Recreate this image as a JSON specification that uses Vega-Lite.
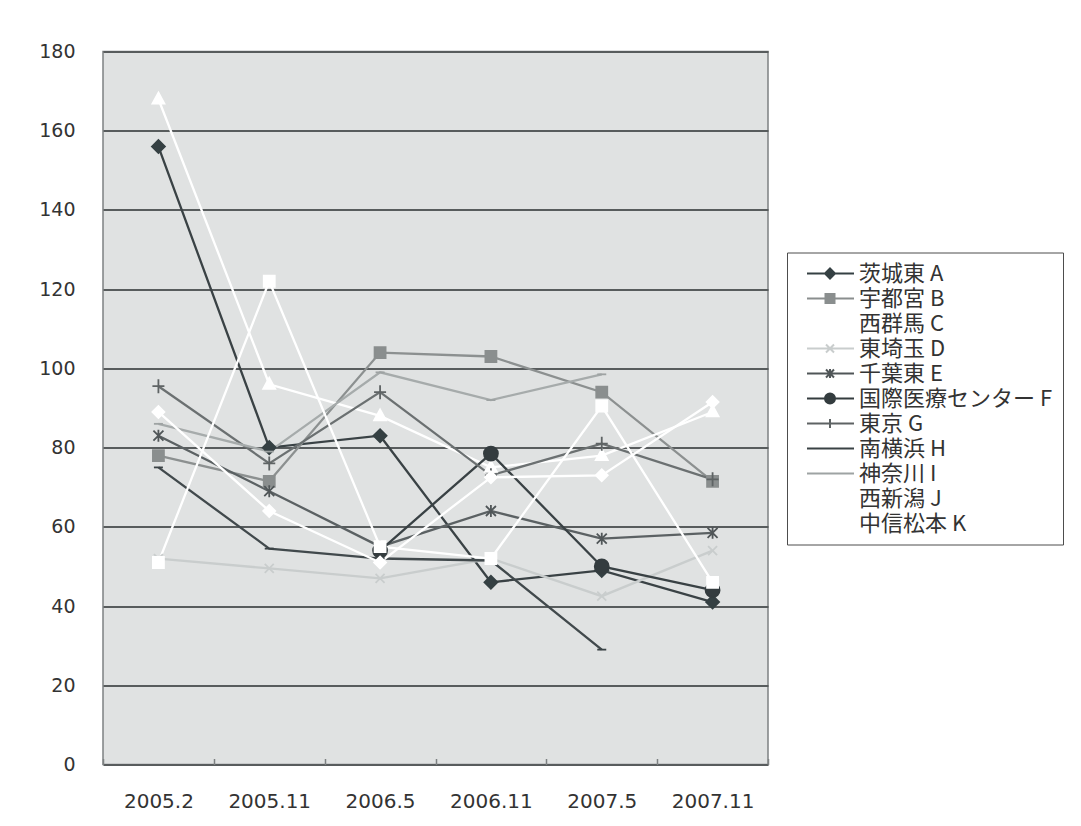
{
  "$schema": "https://vega.github.io/schema/vega-lite/v6.json",
  "width": 665,
  "height": 713,
  "autosize": {"type": "none"},
  "padding": {"left": 103, "top": 51.5, "right": 313, "bottom": 61.5},
  "background": "#ffffff",
  "config": {
    "view": {"fill": "#e0e2e2", "stroke": "#7d8182", "strokeWidth": 1.5},
    "axis": {"labelFont": "DejaVu Sans", "labelColor": "#333333", "title": null}
  },
  "data": {
    "values": [
      {"period": "2005.2", "series": "茨城東 A", "value": 156},
      {"period": "2005.11", "series": "茨城東 A", "value": 80},
      {"period": "2006.5", "series": "茨城東 A", "value": 83},
      {"period": "2006.11", "series": "茨城東 A", "value": 46},
      {"period": "2007.5", "series": "茨城東 A", "value": 49},
      {"period": "2007.11", "series": "茨城東 A", "value": 41},
      {"period": "2005.2", "series": "宇都宮 B", "value": 78},
      {"period": "2005.11", "series": "宇都宮 B", "value": 71.5},
      {"period": "2006.5", "series": "宇都宮 B", "value": 104},
      {"period": "2006.11", "series": "宇都宮 B", "value": 103},
      {"period": "2007.5", "series": "宇都宮 B", "value": 94},
      {"period": "2007.11", "series": "宇都宮 B", "value": 71.5},
      {"period": "2005.2", "series": "西群馬 C", "value": 168},
      {"period": "2005.11", "series": "西群馬 C", "value": 96},
      {"period": "2006.5", "series": "西群馬 C", "value": 88},
      {"period": "2006.11", "series": "西群馬 C", "value": 75},
      {"period": "2007.5", "series": "西群馬 C", "value": 78},
      {"period": "2007.11", "series": "西群馬 C", "value": 89},
      {"period": "2005.2", "series": "東埼玉 D", "value": 52},
      {"period": "2005.11", "series": "東埼玉 D", "value": 49.5},
      {"period": "2006.5", "series": "東埼玉 D", "value": 47},
      {"period": "2006.11", "series": "東埼玉 D", "value": 52},
      {"period": "2007.5", "series": "東埼玉 D", "value": 42.5},
      {"period": "2007.11", "series": "東埼玉 D", "value": 54},
      {"period": "2005.2", "series": "千葉東 E", "value": 83},
      {"period": "2005.11", "series": "千葉東 E", "value": 69},
      {"period": "2006.5", "series": "千葉東 E", "value": 55},
      {"period": "2006.11", "series": "千葉東 E", "value": 64},
      {"period": "2007.5", "series": "千葉東 E", "value": 57},
      {"period": "2007.11", "series": "千葉東 E", "value": 58.5},
      {"period": "2006.5", "series": "国際医療センター F", "value": 54},
      {"period": "2006.11", "series": "国際医療センター F", "value": 78.5},
      {"period": "2007.5", "series": "国際医療センター F", "value": 50},
      {"period": "2007.11", "series": "国際医療センター F", "value": 44},
      {"period": "2005.2", "series": "東京 G", "value": 95.5},
      {"period": "2005.11", "series": "東京 G", "value": 76},
      {"period": "2006.5", "series": "東京 G", "value": 94},
      {"period": "2006.11", "series": "東京 G", "value": 73},
      {"period": "2007.5", "series": "東京 G", "value": 81},
      {"period": "2007.11", "series": "東京 G", "value": 72},
      {"period": "2005.2", "series": "南横浜 H", "value": 75},
      {"period": "2005.11", "series": "南横浜 H", "value": 54.5},
      {"period": "2006.5", "series": "南横浜 H", "value": 52},
      {"period": "2006.11", "series": "南横浜 H", "value": 51.5},
      {"period": "2007.5", "series": "南横浜 H", "value": 29},
      {"period": "2005.2", "series": "神奈川 I", "value": 86},
      {"period": "2005.11", "series": "神奈川 I", "value": 79},
      {"period": "2006.5", "series": "神奈川 I", "value": 99},
      {"period": "2006.11", "series": "神奈川 I", "value": 92},
      {"period": "2007.5", "series": "神奈川 I", "value": 98.5},
      {"period": "2005.2", "series": "西新潟 J", "value": 89},
      {"period": "2005.11", "series": "西新潟 J", "value": 64},
      {"period": "2006.5", "series": "西新潟 J", "value": 51},
      {"period": "2006.11", "series": "西新潟 J", "value": 72.5},
      {"period": "2007.5", "series": "西新潟 J", "value": 73},
      {"period": "2007.11", "series": "西新潟 J", "value": 91.5},
      {"period": "2005.2", "series": "中信松本 K", "value": 51},
      {"period": "2005.11", "series": "中信松本 K", "value": 122},
      {"period": "2006.5", "series": "中信松本 K", "value": 55},
      {"period": "2006.11", "series": "中信松本 K", "value": 52},
      {"period": "2007.5", "series": "中信松本 K", "value": 90.5},
      {"period": "2007.11", "series": "中信松本 K", "value": 46}
    ]
  },
  "encoding": {
    "x": {
      "field": "period",
      "type": "ordinal",
      "sort": ["2005.2", "2005.11", "2006.5", "2006.11", "2007.5", "2007.11"],
      "scale": {"type": "band", "paddingInner": 0, "paddingOuter": 0},
      "axis": {
        "labelAngle": 0,
        "labelFontSize": 20,
        "labelPadding": 33,
        "ticks": true,
        "tickBand": "extent",
        "tickSize": -6,
        "tickColor": "#7d8182",
        "tickWidth": 1.5,
        "domain": false,
        "grid": false
      }
    },
    "y": {
      "field": "value",
      "type": "quantitative",
      "scale": {"domain": [0, 180], "nice": false, "zero": true},
      "axis": {
        "values": [0, 20, 40, 60, 80, 100, 120, 140, 160, 180],
        "labelFontSize": 19,
        "labelPadding": 28,
        "ticks": false,
        "domain": false,
        "grid": true,
        "gridColor": "#585c5d",
        "gridWidth": 2
      }
    }
  },
  "layer": [
    {
      "mark": {"type": "line", "strokeWidth": 2.3},
      "encoding": {
        "color": {
          "field": "series",
          "type": "nominal",
          "scale": {
            "domain": ["茨城東 A", "宇都宮 B", "西群馬 C", "東埼玉 D", "千葉東 E", "国際医療センター F", "東京 G", "南横浜 H", "神奈川 I", "西新潟 J", "中信松本 K"],
            "range": ["#3a4245", "#8c9090", "#ffffff", "#c9cdcd", "#5b6163", "#394144", "#6b7071", "#41494c", "#a6abab", "#ffffff", "#ffffff"]
          },
          "legend": null
        }
      }
    },
    {
      "mark": {"type": "point", "filled": true, "opacity": 1, "size": 400, "strokeWidth": 1.8},
      "encoding": {
        "fill": {
          "field": "series",
          "type": "nominal",
          "scale": {
            "domain": ["茨城東 A", "宇都宮 B", "西群馬 C", "東埼玉 D", "千葉東 E", "国際医療センター F", "東京 G", "南横浜 H", "神奈川 I", "西新潟 J", "中信松本 K"],
            "range": ["#354043", "#8a8e8e", "#ffffff", "#c9cdcd", "#505658", "#343c3f", "#5e6364", "#3a4245", "#9ea3a3", "#ffffff", "#ffffff"]
          },
          "legend": null
        },
        "stroke": {
          "field": "series",
          "type": "nominal",
          "scale": {
            "domain": ["茨城東 A", "宇都宮 B", "西群馬 C", "東埼玉 D", "千葉東 E", "国際医療センター F", "東京 G", "南横浜 H", "神奈川 I", "西新潟 J", "中信松本 K"],
            "range": ["#354043", "#8a8e8e", "#ffffff", "#c9cdcd", "#505658", "#343c3f", "#5e6364", "#3a4245", "#9ea3a3", "#ffffff", "#ffffff"]
          },
          "legend": null
        },
        "shape": {
          "field": "series",
          "type": "nominal",
          "scale": {
            "domain": ["茨城東 A", "宇都宮 B", "西群馬 C", "東埼玉 D", "千葉東 E", "国際医療センター F", "東京 G", "南横浜 H", "神奈川 I", "西新潟 J", "中信松本 K"],
            "range": [
              "M-0.65,0L0,-0.65L0.65,0L0,0.65Z",
              "M-0.55,-0.55H0.55V0.55H-0.55Z",
              "M0,-0.65L0.6,0.45H-0.6Z",
              "M-0.45,-0.45L0.45,0.45M-0.45,0.45L0.45,-0.45",
              "M-0.5,-0.5L0.5,0.5M-0.5,0.5L0.5,-0.5M0,-0.6V0.6",
              "M0.7,0A0.7,0.7,0,1,1,-0.7,0A0.7,0.7,0,1,1,0.7,0Z",
              "M-0.6,0H0.6M0,-0.7V0.7",
              "M-0.45,0H0.45",
              "M-0.45,0H0.45",
              "M-0.6,0L0,-0.6L0.6,0L0,0.6Z",
              "M-0.55,-0.55H0.55V0.55H-0.55Z"
            ]
          },
          "legend": null
        }
      }
    },
    {
      "transform": [{"filter": "false"}],
      "mark": {"type": "point", "filled": true, "opacity": 1, "size": 400, "strokeWidth": 2},
      "encoding": {
        "fill": {
          "field": "series",
          "type": "nominal",
          "scale": {
            "domain": ["茨城東 A", "宇都宮 B", "西群馬 C", "東埼玉 D", "千葉東 E", "国際医療センター F", "東京 G", "南横浜 H", "神奈川 I", "西新潟 J", "中信松本 K"],
            "range": ["#354043", "#8a8e8e", "#ffffff", "#c9cdcd", "#505658", "#343c3f", "#5e6364", "#3a4245", "#9ea3a3", "#ffffff", "#ffffff"]
          },
          "legend": {
            "title": null,
            "orient": "none",
            "legendX": 684,
            "legendY": 201,
            "padding": 10,
            "strokeColor": "#4d4d4d",
            "fillColor": "#ffffff",
            "labelFont": "Noto Sans CJK JP",
            "labelFontSize": 22,
            "labelColor": "#333333",
            "labelOffset": 40,
            "labelLimit": 400,
            "symbolSize": 400,
            "symbolStrokeWidth": 2,
            "rowPadding": 3
          }
        },
        "stroke": {
          "field": "series",
          "type": "nominal",
          "scale": {
            "domain": ["茨城東 A", "宇都宮 B", "西群馬 C", "東埼玉 D", "千葉東 E", "国際医療センター F", "東京 G", "南横浜 H", "神奈川 I", "西新潟 J", "中信松本 K"],
            "range": ["#354043", "#8a8e8e", "#ffffff", "#c9cdcd", "#505658", "#343c3f", "#5e6364", "#3a4245", "#9ea3a3", "#ffffff", "#ffffff"]
          },
          "legend": {
            "title": null,
            "orient": "none",
            "legendX": 684,
            "legendY": 201
          }
        },
        "shape": {
          "field": "series",
          "type": "nominal",
          "scale": {
            "domain": ["茨城東 A", "宇都宮 B", "西群馬 C", "東埼玉 D", "千葉東 E", "国際医療センター F", "東京 G", "南横浜 H", "神奈川 I", "西新潟 J", "中信松本 K"],
            "range": [
              "M-0.1,0H4.6M2.2,-0.5L2.7,0L2.2,0.5L1.7,0Z",
              "M-0.1,0H4.6M1.75,-0.45H2.65V0.45H1.75Z",
              "M-0.1,0H4.6M2.2,-0.5L2.7,0.4H1.7Z",
              "M-0.1,0H4.6M1.8,-0.4L2.6,0.4M1.8,0.4L2.6,-0.4",
              "M-0.1,0H4.6M1.8,-0.4L2.6,0.4M1.8,0.4L2.6,-0.4M2.2,-0.45V0.45",
              "M-0.1,0H4.6M2.7,0A0.5,0.5,0,1,1,1.7,0A0.5,0.5,0,1,1,2.7,0Z",
              "M-0.1,0H4.6M2.2,-0.45V0.45",
              "M-0.1,0H4.6M1.8,0H2.6",
              "M-0.1,0H4.6M1.8,0H2.6",
              "M-0.1,0H4.6M2.2,-0.5L2.7,0L2.2,0.5L1.7,0Z",
              "M-0.1,0H4.6M1.75,-0.45H2.65V0.45H1.75Z"
            ]
          },
          "legend": {
            "title": null,
            "orient": "none",
            "legendX": 684,
            "legendY": 201
          }
        }
      }
    }
  ],
  "resolve": {"scale": {"shape": "independent", "fill": "independent", "stroke": "independent"}}
}
